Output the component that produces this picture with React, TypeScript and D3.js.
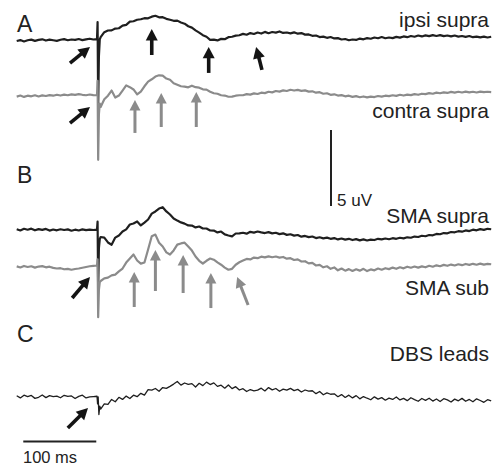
import React from 'react';
import * as d3 from 'd3';

// time grid (ms, stimulus at 0) and values in uV relative to each trace baseline
const TIMES = d3.range(-110, 541, 5);
const ARTIFACT_T = [0.8, 1.6, 2.6, 3.8];

const IPSI = [
  0.00, 0.06, -0.03, 0.05, 0.09, 0.01, 0.07, 0.11, 0.03, 0.09, 0.05, 0.01, 0.08, 0.12, 0.05, 0.10, 0.07, 0.13, 0.06, 0.11, 0.15, 0.10,
  0.12,
  0.25, 0.58, 0.69, 0.70, 0.82, 0.84, 1.01, 1.06, 1.27, 1.30, 1.40, 1.43, 1.50, 1.49, 1.60, 1.66, 1.56, 1.57, 1.46, 1.40,
  1.33, 1.34, 1.22, 1.14, 0.97, 0.88, 0.70, 0.55, 0.38, 0.28, 0.08, 0.09, 0.04, 0.14, 0.12, 0.25, 0.28, 0.35, 0.38,
  0.47, 0.41, 0.52, 0.46, 0.56, 0.49, 0.60, 0.51, 0.59, 0.55, 0.63, 0.53, 0.56, 0.50, 0.57, 0.48, 0.52, 0.42, 0.43, 0.34,
  0.36, 0.26, 0.29, 0.21, 0.26, 0.17, 0.19, 0.10, 0.13, 0.05, 0.10, 0.07, 0.16, 0.11, 0.19, 0.15, 0.23, 0.18, 0.26, 0.18,
  0.23, 0.19, 0.27, 0.22, 0.30, 0.25, 0.33, 0.28, 0.36, 0.30, 0.37, 0.32, 0.39, 0.33, 0.39, 0.32, 0.36, 0.30, 0.36, 0.29,
  0.33, 0.27, 0.33, 0.25, 0.29, 0.24, 0.29, 0.23, 0.28
];
const IPSI_ART = [1.25, -4.3, -1.0, 0.1];

const CONTRA = [
  -0.04, 0.03, -0.06, 0.02, -0.02, 0.05, -0.03, 0.04, 0.00, 0.06, 0.02, 0.08, 0.03, 0.09, 0.05, 0.11, 0.07, 0.12, 0.08, 0.05, 0.10, 0.06,
  0.05,
  -0.72, -0.22, 0.02, 0.36, -0.10, 0.03, 0.36, 0.70, 0.58, 0.43, 0.11, 0.29, 0.64, 0.95, 1.10, 1.28, 1.36, 1.34, 1.15, 1.07,
  0.84, 0.74, 0.64, 0.62, 0.57, 0.68, 0.58, 0.55, 0.44, 0.42, 0.28, 0.18, 0.15, 0.05, 0.03, -0.05, -0.04, 0.02, 0.05,
  0.05, 0.12, 0.09, 0.17, 0.13, 0.22, 0.19, 0.28, 0.24, 0.33, 0.29, 0.37, 0.33, 0.41, 0.36, 0.40, 0.34, 0.37, 0.29, 0.31,
  0.22, 0.25, 0.15, 0.18, 0.08, 0.11, 0.03, 0.06, -0.02, 0.02, -0.06, -0.01, -0.08, -0.03, -0.09, -0.04, -0.07, 0.00, -0.04, 0.02,
  -0.01, 0.05, 0.01, 0.08, 0.03, 0.09, 0.06, 0.12, 0.08, 0.15, 0.12, 0.19, 0.15, 0.22, 0.18, 0.24, 0.20, 0.27, 0.22, 0.28,
  0.23, 0.29, 0.24, 0.28, 0.23, 0.29, 0.25, 0.28, 0.26
];
const CONTRA_ART = [1.0, -4.2, -1.2, -0.5];

const SMA_SUPRA = [
  0.05, -0.03, 0.08, 0.02, 0.09, -0.02, 0.06, 0.01, 0.07, -0.04, 0.03, -0.02, 0.05, 0.00, 0.04, -0.05, 0.02, -0.03, 0.04, -0.01, 0.03, 0.00,
  0.02,
  -0.46, -0.50, -0.82, -0.97, -0.50, -0.36, -0.10, 0.04, 0.36, 0.43, 0.56, 0.30, 0.49, 0.69, 1.08, 1.22, 1.41, 1.50, 1.22, 1.02,
  0.76, 0.62, 0.50, 0.42, 0.30, 0.29, 0.17, 0.23, 0.10, 0.10, -0.03, -0.04, -0.16, -0.10, -0.29, -0.36, -0.42, -0.23, -0.22,
  -0.18, -0.24, -0.12, -0.17, -0.10, -0.16, -0.20, -0.14, -0.22, -0.18, -0.27, -0.22, -0.32, -0.28, -0.37, -0.33, -0.44, -0.39, -0.47, -0.43,
  -0.53, -0.48, -0.55, -0.50, -0.58, -0.53, -0.62, -0.56, -0.63, -0.58, -0.66, -0.60, -0.68, -0.62, -0.69, -0.63, -0.66, -0.58, -0.62, -0.56,
  -0.61, -0.54, -0.58, -0.51, -0.55, -0.48, -0.51, -0.43, -0.46, -0.38, -0.41, -0.33, -0.35, -0.26, -0.28, -0.20, -0.22, -0.13, -0.15, -0.08,
  -0.11, -0.03, -0.07, 0.02, -0.02, 0.06, 0.01, 0.08, 0.05
];
const SMA_SUPRA_ART = [0.55, -3.9, -1.2, -0.6];

const SMA_SUB = [
  0.04, -0.03, 0.07, 0.00, 0.05, -0.04, 0.03, 0.06, -0.02, 0.02, -0.06, -0.10, -0.08, -0.15, -0.12, -0.18, -0.13, -0.10, -0.05, 0.00, 0.05, 0.08,
  0.10,
  -0.92, -0.75, -0.70, -0.55, -0.50, -0.29, -0.10, 0.29, 0.56, 0.82, 0.43, 0.22, 0.30, 1.15, 2.02, 2.13, 1.60, 1.35, 0.96, 0.82,
  1.09, 1.47, 1.55, 1.60, 1.35, 1.08, 0.69, 0.41, 0.23, 0.41, 0.56, 0.48, 0.30, 0.15, -0.04, -0.18, -0.12, 0.15, 0.31,
  0.42, 0.53, 0.50, 0.62, 0.58, 0.68, 0.63, 0.70, 0.64, 0.69, 0.62, 0.66, 0.55, 0.58, 0.46, 0.50, 0.36, 0.38, 0.24, 0.27,
  0.10, 0.14, -0.02, 0.05, -0.12, -0.03, -0.22, -0.10, -0.24, -0.14, -0.26, -0.15, -0.24, -0.12, -0.27, -0.16, -0.22, -0.10, -0.18, -0.08,
  -0.14, -0.04, -0.12, -0.02, -0.09, 0.02, -0.05, 0.03, -0.04, 0.04, -0.02, 0.08, 0.02, 0.11, 0.05, 0.14, 0.08, 0.16, 0.10, 0.18,
  0.12, 0.20, 0.14, 0.21, 0.15, 0.22, 0.16, 0.21, 0.18
];
const SMA_SUB_ART = [0.5, -3.3, -1.5, -1.0];

const DBS = [
  0.08, -0.06, 0.12, 0.03, 0.10, -0.09, -0.02, 0.13, -0.04, 0.09, 0.02, 0.06, -0.05, 0.11, 0.04, 0.07, -0.10, 0.04, 0.12, -0.06, 0.01, 0.03,
  0.05,
  -0.79, -0.45, -0.48, -0.16, -0.31, -0.02, -0.16, 0.06, -0.10, 0.12, 0.02, 0.24, 0.12, 0.49, 0.45, 0.56, 0.38, 0.62, 0.57, 0.70,
  0.85, 1.02, 0.78, 0.92, 0.83, 0.88, 0.66, 0.90, 0.75, 0.98, 0.82, 0.93, 0.70, 0.78, 0.58, 0.79, 0.55, 0.68, 0.46,
  0.55, 0.36, 0.49, 0.41, 0.45, 0.58, 0.40, 0.62, 0.47, 0.56, 0.38, 0.52, 0.45, 0.57, 0.42, 0.50, 0.33, 0.46, 0.38, 0.41,
  0.22, 0.36, 0.15, 0.27, 0.18, 0.21, 0.02, 0.16, -0.03, 0.12, -0.06, 0.09, -0.12, 0.03, -0.08, -0.18, 0.01, -0.14, -0.04, -0.21,
  -0.07, -0.16, 0.00, -0.19, -0.09, -0.24, -0.05, -0.17, -0.28, -0.10, -0.22, -0.08, -0.27, -0.13, -0.30, -0.11, -0.19, -0.33, -0.14, -0.25,
  -0.09, -0.28, -0.16, -0.31, -0.12, -0.23, -0.35, -0.18, -0.26
];
const DBS_ART = [-0.45, 0.0, -1.15, -0.6];

const DARK = '#1f1f1f';
const GRAY = '#8b8b8b';

const TRACES = [
  { label: 'ipsi supra', values: IPSI, art: IPSI_ART, base: 41, color: DARK, width: 2.2, labelY: 27 },
  { label: 'contra supra', values: CONTRA, art: CONTRA_ART, base: 96, color: GRAY, width: 2.2, labelY: 118 },
  { label: 'SMA supra', values: SMA_SUPRA, art: SMA_SUPRA_ART, base: 230, color: DARK, width: 2.2, labelY: 223 },
  { label: 'SMA sub', values: SMA_SUB, art: SMA_SUB_ART, base: 267, color: GRAY, width: 2.2, labelY: 295 },
  { label: 'DBS leads', values: DBS, art: DBS_ART, base: 397, color: DARK, width: 1.3, labelY: 361 }
];

// arrows: trace index, tail (t ms, uV) -> tip (t ms, uV)
const ARROWS = [
  { tr: 0, t0: -37, v0: -1.45, t1: -9.6, v1: -0.39, c: 'k' },
  { tr: 0, t0: 75, v0: -0.92, t1: 75, v1: 0.79, c: 'k' },
  { tr: 0, t0: 153, v0: -2.1, t1: 153, v1: -0.39, c: 'k' },
  { tr: 0, t0: 226, v0: -1.9, t1: 218, v1: -0.39, c: 'k' },
  { tr: 1, t0: -37, v0: -1.78, t1: -9.6, v1: -0.72, c: 'k' },
  { tr: 1, t0: 52, v0: -2.43, t1: 52, v1: -0.26, c: 'g' },
  { tr: 1, t0: 88, v0: -2.04, t1: 88, v1: 0.2, c: 'g' },
  { tr: 1, t0: 136, v0: -2.04, t1: 136, v1: 0.26, c: 'g' },
  { tr: 3, t0: -34, v0: -2.04, t1: -9.6, v1: -0.66, c: 'k' },
  { tr: 3, t0: 51, v0: -2.63, t1: 51, v1: -0.33, c: 'g' },
  { tr: 3, t0: 80, v0: -1.58, t1: 80, v1: 1.12, c: 'g' },
  { tr: 3, t0: 118, v0: -1.71, t1: 118, v1: 0.79, c: 'g' },
  { tr: 3, t0: 156, v0: -2.7, t1: 156, v1: -0.39, c: 'g' },
  { tr: 3, t0: 207, v0: -2.5, t1: 192, v1: -0.66, c: 'g' },
  { tr: 4, t0: -40, v0: -2.04, t1: -12.3, v1: -0.72, c: 'k' }
];

const PANELS = [
  { letter: 'A', y: 32 },
  { letter: 'B', y: 183 },
  { letter: 'C', y: 342 }
];

const W = 501;
const H = 468;
const FONT = "'Liberation Sans', Arial, Helvetica, sans-serif";

const x = d3.scaleLinear().domain([0, 100]).range([97, 170]);
const y = d3.scaleLinear().domain([0, 1]).range([0, -15.2]);

function points(values: number[], art: number[]): [number, number][] {
  const pts: [number, number][] = TIMES.map((t, i) => [t, values[i]]);
  ARTIFACT_T.forEach((t, i) => pts.push([t, art[i]]));
  return pts.sort((a, b) => a[0] - b[0]);
}

function Arrow({ x0, y0, x1, y1, color, shaft, head }: any) {
  const dx = x1 - x0;
  const dy = y1 - y0;
  const len = Math.sqrt(dx * dx + dy * dy);
  const ux = dx / len;
  const uy = dy / len;
  const hl = head * 0.95;
  const bx = x1 - ux * hl;
  const by = y1 - uy * hl;
  const px = -uy * head / 2;
  const py = ux * head / 2;
  return (
    <g>
      <line x1={x0} y1={y0} x2={bx + ux * 1} y2={by + uy * 1} stroke={color} strokeWidth={shaft} />
      <polygon points={`${x1},${y1} ${bx + px},${by + py} ${bx - px},${by - py}`} fill={color} />
    </g>
  );
}

export default function App() {
  const line = d3.line<[number, number]>().x(d => x(d[0])).y(d => y(d[1]));

  return (
    <svg width={W} height={H} style={{ position: 'absolute', left: 0, top: 0, background: '#fff' }}
      fontFamily={FONT}>
      <rect width={W} height={H} fill="#fff" />
      {TRACES.map(tr => (
        <g key={tr.label} transform={`translate(0,${tr.base})`}>
          <path d={line(points(tr.values, tr.art)) || ''} fill="none" stroke={tr.color}
            strokeWidth={tr.width} strokeLinejoin="round" />
        </g>
      ))}
      {TRACES.map(tr => (
        <text key={'l' + tr.label} x={489} y={tr.labelY} textAnchor="end" fontSize={21} fill="#222">{tr.label}</text>
      ))}
      {ARROWS.map((a, i) => {
        const base = TRACES[a.tr].base;
        const black = a.c === 'k';
        return (
          <Arrow key={i} x0={x(a.t0)} y0={base + y(a.v0)} x1={x(a.t1)} y1={base + y(a.v1)}
            color={black ? '#141414' : '#8b8b8b'} shaft={black ? 3.6 : 3} head={black ? 12 : 11} />
        );
      })}
      {PANELS.map(p => (
        <text key={p.letter} x={17} y={p.y} fontSize={23} fill="#222">{p.letter}</text>
      ))}
      {/* 5 uV scale bar */}
      <line x1={331} x2={331} y1={130} y2={130 - y(5)} stroke="#222" strokeWidth={2} />
      <text x={337} y={206} fontSize={17} fill="#222">5 uV</text>
      {/* 100 ms scale bar */}
      <line x1={x(-101)} x2={x(-1)} y1={441.5} y2={441.5} stroke="#222" strokeWidth={1.8} />
      <text x={23} y={463} fontSize={16.5} fill="#222">100 ms</text>
    </svg>
  );
}
